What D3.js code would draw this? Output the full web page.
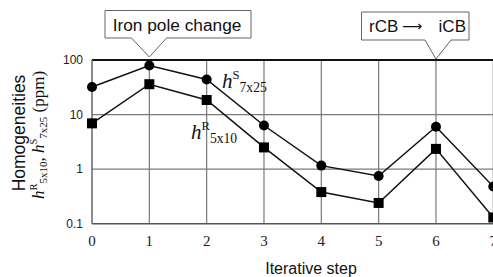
<!DOCTYPE html>
<html>
<head>
<meta charset="utf-8" />
<script src="https://cdn.jsdelivr.net/npm/d3@7"></script>
<style>
html, body { margin: 0; padding: 0; background: #fff; }
svg { display: block; }
.sans { font-family: Arial, "Liberation Sans", sans-serif; }
.serif { font-family: "Times New Roman", "Liberation Serif", serif; }
</style>
</head>
<body>
<div id="chart"></div>
<script>
// iterative steps and the two homogeneity series (ppm)
var steps = [0, 1, 2, 3, 4, 5, 6, 7];
var hS7x25 = [32, 79, 44, 6.3, 1.16, 0.75, 6.0, 0.48];
var hR5x10 = [6.9, 36, 18.5, 2.5, 0.38, 0.24, 2.35, 0.13];
var yTicks = [0.1, 1, 10, 100];
var yTickLabels = ["0.1", "1", "10", "100"];

var W = 493, H = 277;
var svg = d3.select('#chart').append('svg')
	.attr('width', W)
	.attr('height', H);

var x = d3.scaleLinear().domain([0, 7]).range([92, 493.3]);
var y = d3.scaleLog().domain([0.1, 100]).range([223.7, 60]);

// grid
svg.append('g').selectAll('line.v').data(steps.slice(1)).enter()
	.append('line')
	.attr('x1', function(d) { return x(d); })
	.attr('x2', function(d) { return x(d); })
	.attr('y1', y(100)).attr('y2', y(0.1))
	.attr('stroke', '#7a7a7a').attr('stroke-width', 1.2);

svg.append('g').selectAll('line.h').data([1, 10]).enter()
	.append('line')
	.attr('x1', x(0)).attr('x2', W)
	.attr('y1', function(d) { return y(d); })
	.attr('y2', function(d) { return y(d); })
	.attr('stroke', '#7a7a7a').attr('stroke-width', 1.2);

// frame
svg.append('line').attr('x1', x(0)).attr('x2', W)
	.attr('y1', y(100)).attr('y2', y(100))
	.attr('stroke', '#111').attr('stroke-width', 1.8);
svg.append('line').attr('x1', x(0)).attr('x2', W)
	.attr('y1', y(0.1)).attr('y2', y(0.1))
	.attr('stroke', '#555').attr('stroke-width', 1.5);
svg.append('line').attr('x1', x(0)).attr('x2', x(0))
	.attr('y1', y(100)).attr('y2', y(0.1))
	.attr('stroke', '#666').attr('stroke-width', 1.5);

// y tick labels
svg.append('g').selectAll('text').data(yTicks).enter()
	.append('text')
	.attr('class', 'sans')
	.attr('x', 83)
	.attr('y', function(d) { return y(d) + 4; })
	.attr('text-anchor', 'end')
	.attr('font-size', 12)
	.attr('fill', '#222')
	.text(function(d, i) { return yTickLabels[i]; });

// x tick labels
svg.append('g').selectAll('text').data(steps).enter()
	.append('text')
	.attr('class', 'serif')
	.attr('x', function(d) { return x(d); })
	.attr('y', 246)
	.attr('text-anchor', 'middle')
	.attr('font-size', 15)
	.attr('fill', '#222')
	.text(function(d) { return d; });

// series
var line = d3.line()
	.x(function(d, i) { return x(steps[i]); })
	.y(function(d) { return y(d); });

svg.append('path').datum(hS7x25)
	.attr('d', line).attr('fill', 'none')
	.attr('stroke', '#111').attr('stroke-width', 1.5);
svg.append('path').datum(hR5x10)
	.attr('d', line).attr('fill', 'none')
	.attr('stroke', '#111').attr('stroke-width', 1.5);

svg.append('g').selectAll('circle').data(hS7x25).enter()
	.append('circle')
	.attr('cx', function(d, i) { return x(steps[i]); })
	.attr('cy', function(d) { return y(d); })
	.attr('r', 5)
	.attr('fill', '#000');

svg.append('g').selectAll('rect').data(hR5x10).enter()
	.append('rect')
	.attr('x', function(d, i) { return x(steps[i]) - 5; })
	.attr('y', function(d) { return y(d) - 5; })
	.attr('width', 10).attr('height', 10)
	.attr('fill', '#000');

// series labels h^S_7x25, h^R_5x10
function hLabel(sel, sup, sub, size) {
	sel.append('tspan').attr('font-style', 'italic').attr('font-size', size).text('h');
	sel.append('tspan').attr('font-size', size * 0.6).attr('dy', -size * 0.42).text(sup);
	sel.append('tspan').attr('font-size', size * 0.65).attr('dy', size * 0.62).text(sub);
}

var lS = svg.append('text').attr('class', 'serif').attr('x', 222).attr('y', 88).attr('fill', '#111');
hLabel(lS, 'S', '7x25', 21);
var lR = svg.append('text').attr('class', 'serif').attr('x', 191).attr('y', 139).attr('fill', '#111');
hLabel(lR, 'R', '5x10', 21);

// axis titles
svg.append('text').attr('class', 'sans')
	.attr('transform', 'translate(25,133) rotate(-90)')
	.attr('text-anchor', 'middle')
	.attr('font-size', 17.5)
	.attr('fill', '#111')
	.text('Homogeneities');

var t2 = svg.append('text').attr('class', 'serif')
	.attr('transform', 'translate(44,135) rotate(-90)')
	.attr('text-anchor', 'middle')
	.attr('fill', '#111');
t2.append('tspan').attr('font-style', 'italic').attr('font-size', 17).text('h');
t2.append('tspan').attr('font-size', 10.5).attr('dy', -7).text('R');
t2.append('tspan').attr('font-size', 11).attr('dy', 10).text('5x10');
t2.append('tspan').attr('font-size', 17).attr('dy', -3).text(', ');
t2.append('tspan').attr('font-style', 'italic').attr('font-size', 17).text('h');
t2.append('tspan').attr('font-size', 10.5).attr('dy', -7).text('S');
t2.append('tspan').attr('font-size', 11).attr('dy', 10).text('7x25');
t2.append('tspan').attr('font-size', 17).attr('dy', -3).text(' (ppm)');

svg.append('text').attr('class', 'sans')
	.attr('x', 311).attr('y', 274)
	.attr('text-anchor', 'middle')
	.attr('font-size', 16)
	.attr('fill', '#111')
	.text('Iterative step');

// callouts
function callout(x0, x1, y0, y1, n0, n1, tipX, tipY) {
	var p = d3.path();
	p.moveTo(x0, y0);
	p.lineTo(x1, y0);
	p.lineTo(x1, y1);
	p.lineTo(n1, y1);
	p.lineTo(tipX, tipY);
	p.lineTo(n0, y1);
	p.lineTo(x0, y1);
	p.closePath();
	svg.append('path').attr('d', p.toString())
		.attr('fill', '#fff').attr('stroke', '#666').attr('stroke-width', 1);
}

callout(105, 251, 10.5, 38, 131.5, 166.5, x(1), 57);
svg.append('text').attr('class', 'sans')
	.attr('x', 177).attr('y', 30.5)
	.attr('text-anchor', 'middle')
	.attr('font-size', 17.3)
	.attr('fill', '#111')
	.text('Iron pole change');

callout(361.5, 469, 12, 40, 425, 451, x(6), 59);
svg.append('text').attr('class', 'sans')
	.attr('x', 369).attr('y', 32)
	.attr('font-size', 17)
	.attr('fill', '#111')
	.text('rCB');
svg.append('text')
	.attr('x', 402).attr('y', 31)
	.attr('font-family', 'DejaVu Sans')
	.attr('font-size', 14)
	.attr('fill', '#111')
	.text('\u27F6');
svg.append('text').attr('class', 'sans')
	.attr('x', 466).attr('y', 32)
	.attr('text-anchor', 'end')
	.attr('font-size', 17)
	.attr('fill', '#111')
	.text('iCB');
</script>
</body>
</html>
